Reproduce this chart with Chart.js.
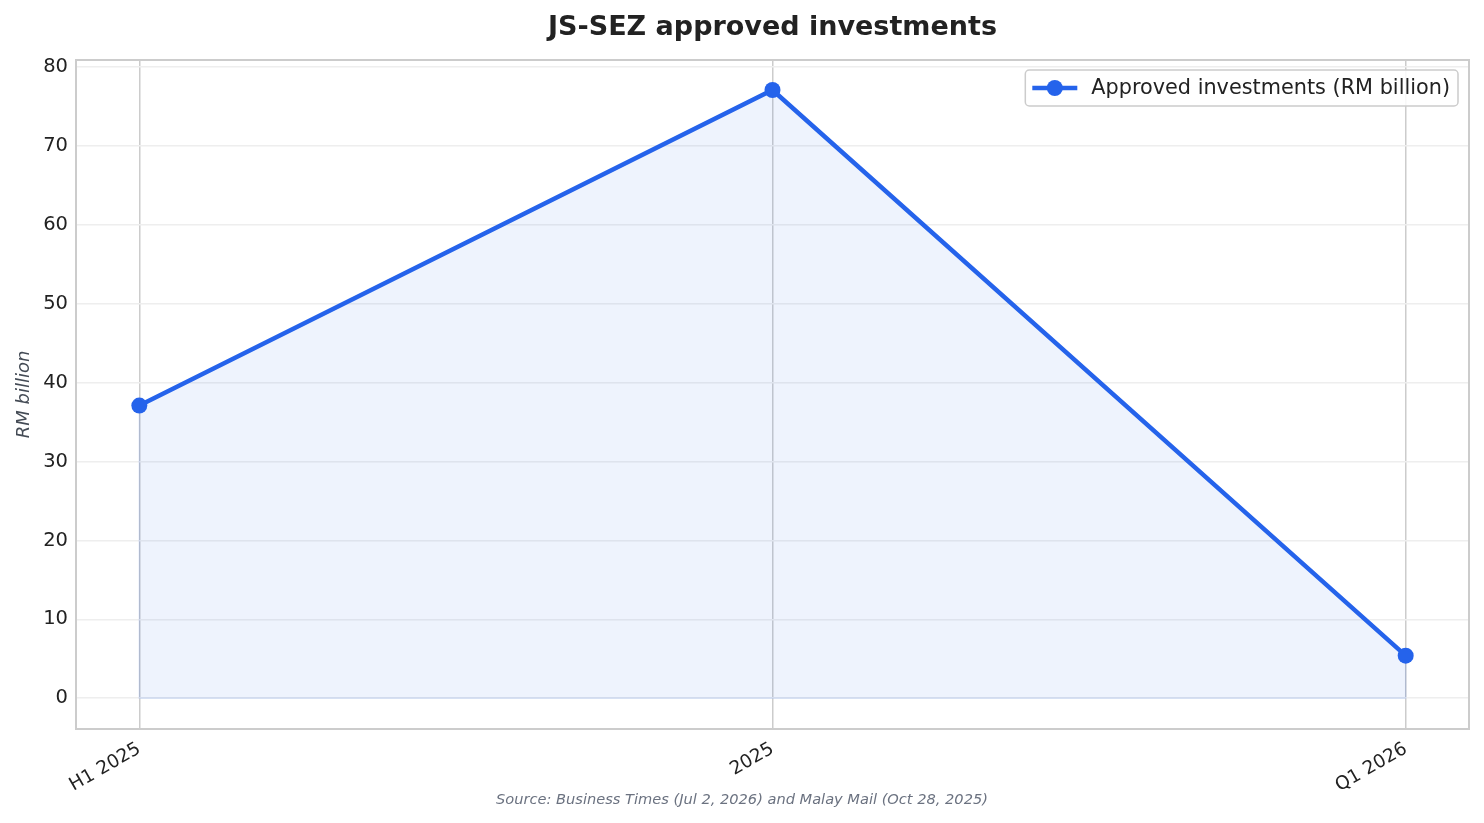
<!DOCTYPE html>
<html>
<head>
<meta charset="utf-8">
<script src="https://cdn.jsdelivr.net/npm/chart.js@4.4.1/dist/chart.umd.min.js"></script>
<style>
  html, body { margin: 0; padding: 0; background: #fff; }
  #wrap { width: 1484px; height: 823px; }
</style>
</head>
<body>
<div id="wrap"><canvas id="myChart" width="1484" height="823"></canvas></div>
<script>
// data
const periods = ['H1 2025', '2025', 'Q1 2026'];
const investments = [37.1, 77.1, 5.4];
const yTicks = [0, 10, 20, 30, 40, 50, 60, 70, 80];

const chartTitle = 'JS-SEZ approved investments';
const sourceNote = 'Source: Business Times (Jul 2, 2026) and Malay Mail (Oct 28, 2025)';
const seriesLabel = 'Approved investments (RM billion)';

const blue = '#2563eb';
const font = "'DejaVu Sans', sans-serif";

// title, source line, frame and legend box drawn by hand (matplotlib look)
const decorations = {
    id: 'decorations',
    beforeDatasetsDraw(chart) {
        const ctx = chart.ctx;
        const meta = chart.getDatasetMeta(0);
        const pts = meta.data;
        const y0 = chart.scales.y.getPixelForValue(0);
        // faint edge of the filled area
        ctx.save();
        ctx.strokeStyle = 'rgba(37,99,235,0.13)';
        ctx.lineWidth = 1.5;
        ctx.beginPath();
        ctx.moveTo(pts[0].x, pts[0].y);
        ctx.lineTo(pts[0].x, y0);
        ctx.lineTo(pts[pts.length - 1].x, y0);
        ctx.lineTo(pts[pts.length - 1].x, pts[pts.length - 1].y);
        ctx.stroke();
        ctx.restore();
    },
    afterDraw(chart) {
        const ctx = chart.ctx;
        const a = chart.chartArea;
        ctx.save();
        // frame
        ctx.strokeStyle = '#cccccc';
        ctx.lineWidth = 2;
        ctx.strokeRect(a.left, a.top, a.right - a.left, a.bottom - a.top);

        // title
        ctx.fillStyle = '#222222';
        ctx.font = 'bold 27px ' + font;
        ctx.textAlign = 'center';
        ctx.textBaseline = 'middle';
        ctx.fillText(chartTitle, (a.left + a.right) / 2, 28);

        // source
        ctx.fillStyle = '#6b7280';
        ctx.font = 'italic 14.6px ' + font;
        ctx.fillText(sourceNote, chart.width / 2, 800);

        // legend
        ctx.font = '20.8px ' + font;
        const tw = ctx.measureText(seriesLabel).width;
        const bw = tw + 74, bh = 36;
        const bx = a.right - 11 - bw, by = 70;
        ctx.fillStyle = 'rgba(255,255,255,0.85)';
        ctx.strokeStyle = '#cccccc';
        ctx.lineWidth = 1.5;
        ctx.beginPath();
        ctx.roundRect(bx, by, bw, bh, 4);
        ctx.fill();
        ctx.stroke();
        const ly = by + bh / 2;
        ctx.strokeStyle = blue;
        ctx.lineWidth = 4.5;
        ctx.beginPath();
        ctx.moveTo(bx + 7, ly);
        ctx.lineTo(bx + 52, ly);
        ctx.stroke();
        ctx.fillStyle = blue;
        ctx.beginPath();
        ctx.arc(bx + 29.5, ly, 8, 0, Math.PI * 2);
        ctx.fill();
        ctx.fillStyle = '#222222';
        ctx.textAlign = 'left';
        ctx.fillText(seriesLabel, bx + 66, ly + 1);
        ctx.restore();
    }
};

let ctx = document.getElementById('myChart').getContext('2d');
let myChart = new Chart(ctx, {
    type: 'line',
    data: {
        datasets: [{
            label: seriesLabel,
            data: investments.map((v, i) => ({ x: i, y: v })),
            borderColor: blue,
            backgroundColor: 'rgba(37,99,235,0.08)',
            borderWidth: 4.5,
            pointRadius: 8,
            pointHoverRadius: 8,
            pointBackgroundColor: blue,
            pointBorderWidth: 0,
            tension: 0,
            fill: 'origin'
        }]
    },
    options: {
        responsive: false,
        animation: false,
        events: [],
        layout: { padding: { left: 0, top: 60, right: 15, bottom: 0 } },
        scales: {
            x: {
                type: 'linear',
                min: -0.1,
                max: 2.1,
                afterBuildTicks: (scale) => { scale.ticks = periods.map((p, i) => ({ value: i })); },
                afterFit: (scale) => { scale.height = 94; },
                grid: { color: '#cccccc', lineWidth: 1.5, drawTicks: false },
                border: { display: false },
                ticks: {
                    callback: (v) => periods[v],
                    minRotation: 30,
                    maxRotation: 30,
                    padding: 9,
                    color: '#222222',
                    font: { family: font, size: 18.5 }
                }
            },
            y: {
                min: -3.9,
                max: 80.9,
                afterBuildTicks: (scale) => { scale.ticks = yTicks.map(v => ({ value: v })); },
                afterFit: (scale) => { scale.width = 76; },
                grid: { color: '#eeeeee', lineWidth: 1.5, drawTicks: false },
                border: { display: false },
                ticks: {
                    padding: 8,
                    color: '#222222',
                    font: { family: font, size: 19.5 }
                },
                title: {
                    display: true,
                    text: 'RM billion',
                    color: '#444b55',
                    padding: { top: 14, bottom: 0 },
                    font: { family: font, size: 18, style: 'italic' }
                }
            }
        },
        plugins: {
            legend: { display: false },
            tooltip: { enabled: false }
        }
    },
    plugins: [decorations]
});
</script>
</body>
</html>
